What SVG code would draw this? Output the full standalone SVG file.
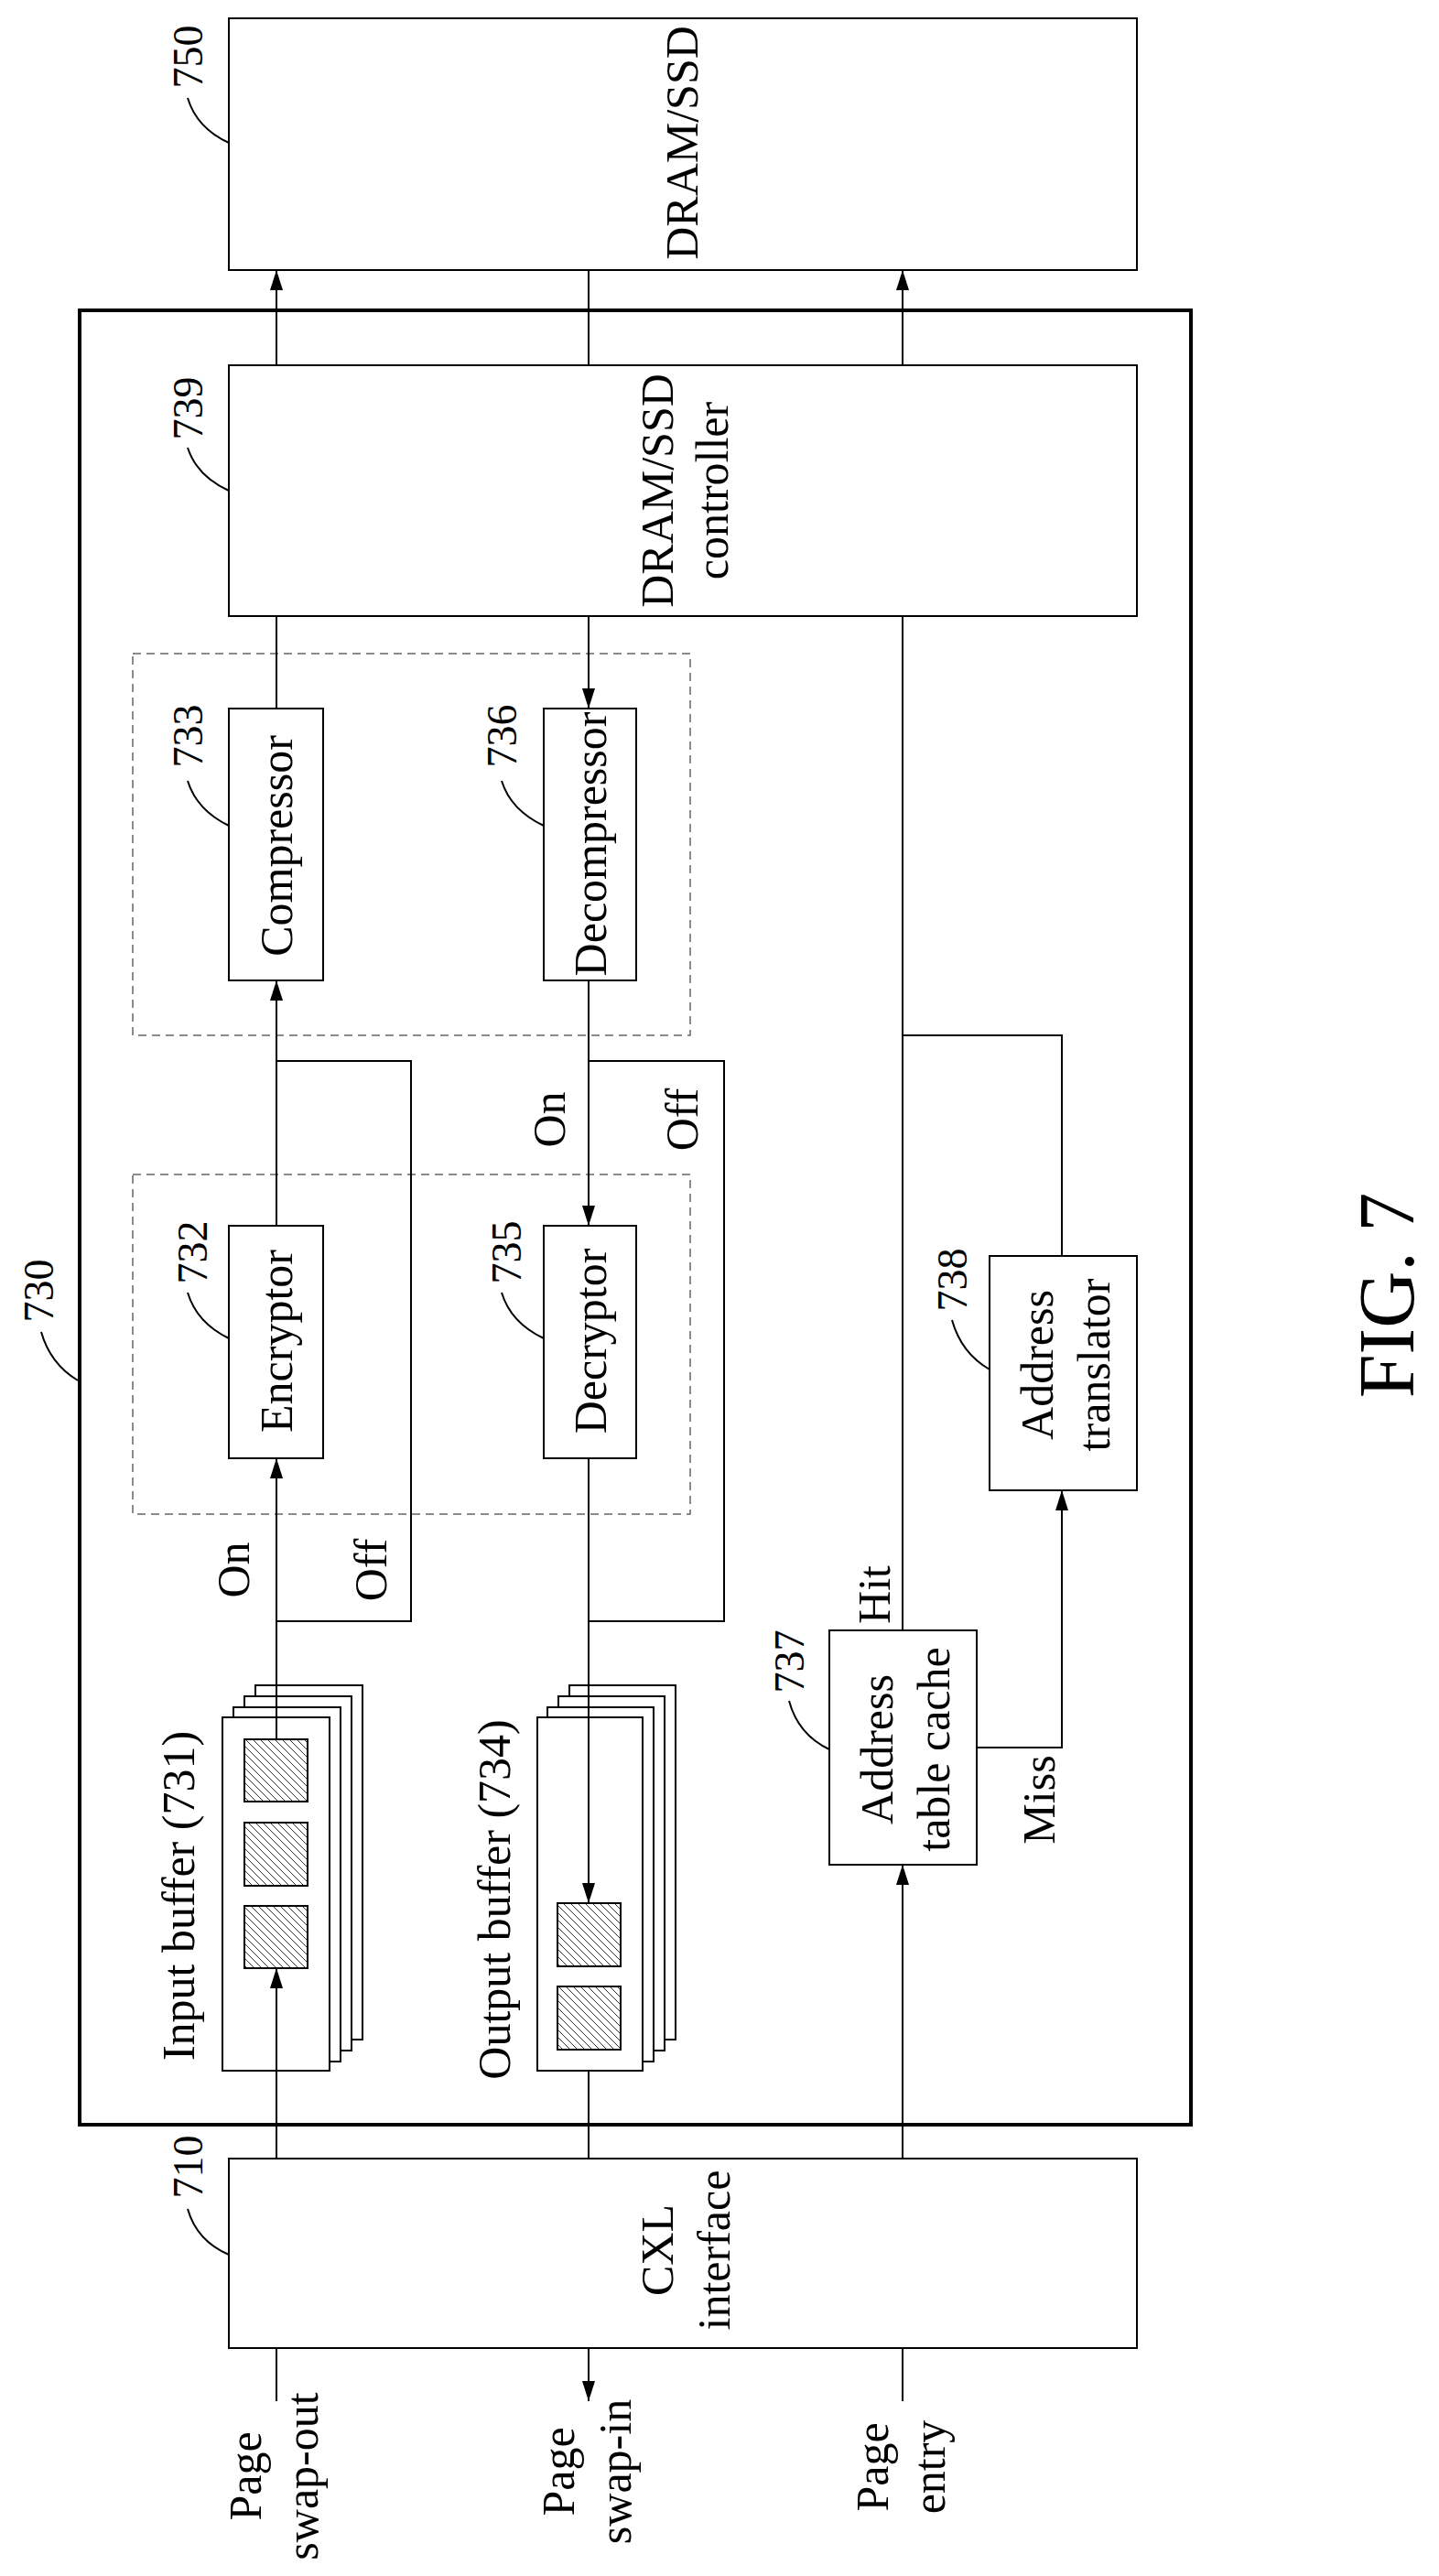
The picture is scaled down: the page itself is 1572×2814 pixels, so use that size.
<svg xmlns="http://www.w3.org/2000/svg" width="1572" height="2814" viewBox="0 0 1572 2814">
<style>
.b{fill:#fff;stroke:#000;stroke-width:2}
.d{fill:none;stroke:#666;stroke-width:1.5;stroke-dasharray:9 6}
.l{fill:none;stroke:#000;stroke-width:2}
.a{fill:none;stroke:#000;stroke-width:2;marker-end:url(#ah)}
.h{fill:url(#hatch);stroke:#000;stroke-width:2}
text{font-family:"Liberation Serif","Times New Roman",serif;font-size:50px;fill:#000;text-anchor:middle;dominant-baseline:central}
.n{font-size:46px}
</style>
<defs>
<marker id="ah" markerWidth="24" markerHeight="14" refX="22" refY="7" orient="auto" markerUnits="userSpaceOnUse"><path d="M0,0 L22,7 L0,14 Z" fill="#000"/></marker>
<pattern id="hatch" width="8" height="8" patternUnits="userSpaceOnUse"><rect width="8" height="8" fill="#fff"/><path d="M0,0 L8,8 M-2,6 L2,10 M6,-2 L10,2" stroke="#000" stroke-width="0.8"/></pattern>
</defs>
<g id="n730"><rect x="87" y="339" width="1214" height="1982" fill="none" stroke="#000" stroke-width="4"/>
<text class="n" transform="translate(42,1410) rotate(-90)">730</text><path class="l" d="M45,1455 Q55,1490 85,1508"/></g>
<g id="n750"><rect class="b" x="250" y="20" width="992" height="275"/><text transform="translate(745,156) rotate(-90)">DRAM/SSD</text>
<text class="n" transform="translate(205,62) rotate(-90)">750</text><path class="l" d="M205,107 Q215,140 250,156"/></g>
<g id="n739"><rect class="b" x="250" y="399" width="992" height="274"/><text transform="translate(718,536) rotate(-90)">DRAM/SSD</text><text transform="translate(778,536) rotate(-90)">controller</text>
<text class="n" transform="translate(205,446) rotate(-90)">739</text><path class="l" d="M205,489 Q215,520 250,536"/></g>
<g id="groups"><rect class="d" x="145" y="714" width="609" height="417"/><rect class="d" x="145" y="1283" width="609" height="371"/></g>
<g id="n733"><rect class="b" x="250" y="774" width="103" height="297"/><text transform="translate(302,924) rotate(-90)">Compressor</text>
<text class="n" transform="translate(205,804) rotate(-90)">733</text><path class="l" d="M205,853 Q215,885 250,902"/></g>
<g id="n736"><rect class="b" x="594" y="774" width="101" height="297"/><text transform="translate(645,922) rotate(-90)">Decompressor</text>
<text class="n" transform="translate(548,804) rotate(-90)">736</text><path class="l" d="M548,853 Q558,885 594,902"/></g>
<g id="n732"><rect class="b" x="250" y="1339" width="103" height="254"/><text transform="translate(302,1465) rotate(-90)">Encryptor</text>
<text class="n" transform="translate(210,1368) rotate(-90)">732</text><path class="l" d="M205,1412 Q215,1445 250,1462"/></g>
<g id="n735"><rect class="b" x="594" y="1339" width="101" height="254"/><text transform="translate(645,1465) rotate(-90)">Decryptor</text>
<text class="n" transform="translate(553,1368) rotate(-90)">735</text><path class="l" d="M548,1412 Q558,1445 594,1462"/></g>
<g id="n738"><rect class="b" x="1081" y="1372" width="161" height="256"/><text transform="translate(1133,1491) rotate(-90)">Address</text><text transform="translate(1195,1491) rotate(-90)">translator</text>
<text class="n" transform="translate(1040,1398) rotate(-90)">738</text><path class="l" d="M1040,1442 Q1050,1478 1081,1496"/></g>
<g id="n737"><rect class="b" x="906" y="1781" width="161" height="256"/><text transform="translate(958,1911) rotate(-90)">Address</text><text transform="translate(1020,1911) rotate(-90)">table cache</text>
<text class="n" transform="translate(862,1815) rotate(-90)">737</text><path class="l" d="M862,1858 Q872,1895 906,1911"/></g>
<g id="n731"><rect class="b" x="279" y="1841" width="117" height="387"/><rect class="b" x="267" y="1853" width="117" height="387"/><rect class="b" x="255" y="1865" width="117" height="387"/><rect class="b" x="243" y="1876" width="117" height="386"/>
<rect class="h" x="267" y="1900" width="69" height="68"/><rect class="h" x="267" y="1991" width="69" height="69"/><rect class="h" x="267" y="2082" width="69" height="68"/>
<text transform="translate(195,2071) rotate(-90)">Input buffer (731)</text></g>
<g id="n734"><rect class="b" x="622" y="1841" width="116" height="387"/><rect class="b" x="610" y="1853" width="116" height="387"/><rect class="b" x="598" y="1865" width="116" height="387"/><rect class="b" x="587" y="1876" width="115" height="386"/>
<rect class="h" x="609" y="2079" width="69" height="69"/><rect class="h" x="609" y="2170" width="69" height="69"/>
<text transform="translate(540,2075) rotate(-90)">Output buffer (734)</text></g>
<g id="n710"><rect class="b" x="250" y="2358" width="992" height="207"/><text transform="translate(718,2458) rotate(-90)">CXL</text><text transform="translate(780,2458) rotate(-90)">interface</text>
<text class="n" transform="translate(205,2367) rotate(-90)">710</text><path class="l" d="M205,2413 Q215,2448 250,2463"/></g>
<g id="connectors">
<path class="a" d="M302,2358 V2150"/><path class="a" d="M302,1900 V1593"/><path class="a" d="M302,1339 V1071"/>
<path class="l" d="M302,1771 H449 V1159 H302"/><path class="l" d="M302,774 V673"/><path class="a" d="M302,399 V295"/>
<path class="l" d="M643,295 V399"/><path class="a" d="M643,673 V774"/><path class="a" d="M643,1071 V1339"/>
<path class="l" d="M643,1159 H791 V1771 H643"/><path class="a" d="M643,1593 V2079"/><path class="l" d="M643,2262 V2358"/><path class="a" d="M643,2565 V2623"/>
<path class="l" d="M302,2565 V2623"/><path class="l" d="M986,2565 V2623"/>
<path class="a" d="M986,2358 V2037"/><path class="l" d="M986,1781 V673"/><path class="a" d="M986,399 V295"/>
<path class="l" d="M986,1131 H1160 V1372"/><path class="a" d="M1067,1909 H1160 V1628"/>
<text transform="translate(600,1223) rotate(-90)">On</text><text transform="translate(745,1223) rotate(-90)">Off</text>
<text transform="translate(255,1715) rotate(-90)">On</text><text transform="translate(405,1715) rotate(-90)">Off</text>
<text transform="translate(955,1742) rotate(-90)">Hit</text><text transform="translate(1135,1966) rotate(-90)">Miss</text>
</g>
<g id="labels">
<text transform="translate(268,2705) rotate(-90)">Page</text><text transform="translate(330,2705) rotate(-90)">swap-out</text>
<text transform="translate(610,2700) rotate(-90)">Page</text><text transform="translate(672,2700) rotate(-90)">swap-in</text>
<text transform="translate(953,2695) rotate(-90)">Page</text><text transform="translate(1015,2695) rotate(-90)">entry</text>
<text style="font-size:86px" transform="translate(1515,1415) rotate(-90)">FIG. 7</text>
</g>
</svg>
